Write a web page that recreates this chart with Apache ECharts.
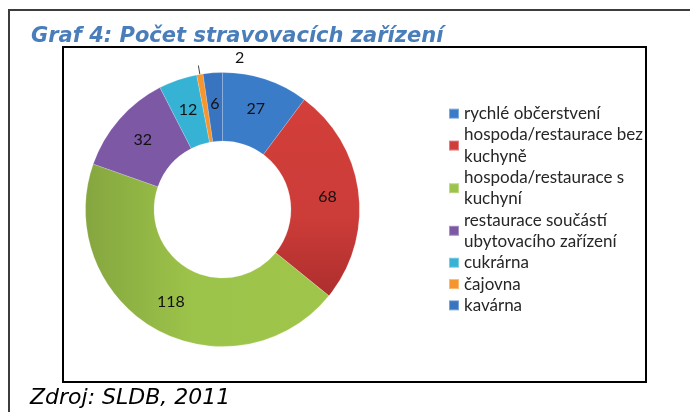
<!DOCTYPE html>
<html>
<head>
<meta charset="utf-8">
<script src="https://cdn.jsdelivr.net/npm/echarts@6/dist/echarts.min.js"></script>
<style>
  html, body { margin: 0; padding: 0; background: #fff; }
  #chart { width: 690px; height: 412px; }
</style>
</head>
<body>
<div id="chart"></div>
<script>
// data
var categories = [
    'rychlé občerstvení',
    'hospoda/restaurace bez kuchyně',
    'hospoda/restaurace s kuchyní',
    'restaurace součástí ubytovacího zařízení',
    'cukrárna',
    'čajovna',
    'kavárna'
];
// legend wording, wrapped the way the picture wraps it
var legendLabels = [
    'rychlé občerstvení',
    'hospoda/restaurace bez\nkuchyně',
    'hospoda/restaurace s\nkuchyní',
    'restaurace součástí\nubytovacího zařízení',
    'cukrárna',
    'čajovna',
    'kavárna'
];
var values = [27, 68, 118, 32, 12, 2, 6];
var colors = ['#3b7cc9', '#cf3e3a', '#9dc44a', '#7c58a5', '#36b2d5', '#f7962f', '#3874c0'];

var SMALL = 5; // čajovna - label sits outside with a leader line

var chart = echarts.init(document.getElementById('chart'));

// excel-ish shading on the two big slices
function shade(i) {
    if (i === 1) {
        return new echarts.graphic.LinearGradient(0, 0, 0, 1, [
            { offset: 0, color: '#d33f3b' },
            { offset: 0.6, color: '#cc3c38' },
            { offset: 1, color: '#ad2e2e' }
        ]);
    }
    if (i === 2) {
        return new echarts.graphic.LinearGradient(0, 0, 1, 0, [
            { offset: 0, color: '#85a63f' },
            { offset: 0.45, color: '#9dc44a' },
            { offset: 1, color: '#9fc64b' }
        ]);
    }
    return colors[i];
}

var pieData = categories.map(function (name, i) {
    var item = { name: name, value: values[i], itemStyle: { color: shade(i) } };
    if (i === SMALL) {
        item.label = { position: 'outside' };
        item.labelLine = { show: true, length: 9, length2: 0, lineStyle: { color: '#444', width: 1 } };
    }
    return item;
});

var option = {
    animation: false,
    color: colors,
    title: {
        text: 'Graf 4: Počet stravovacích zařízení',
        left: 26,
        top: 21,
        textStyle: {
            fontFamily: 'DejaVu Sans',
            fontStyle: 'italic',
            fontWeight: 'bold',
            fontSize: 21,
            color: '#4a7ebb'
        }
    },
    graphic: [
        // outer frame (top and left edge)
        {
            type: 'polyline',
            shape: { points: [[9, 412], [9, 10], [690, 10]] },
            style: { stroke: '#3c3c3c', lineWidth: 2, fill: null }
        },
        // chart area box
        {
            type: 'rect',
            shape: { x: 63, y: 47, width: 583, height: 335 },
            style: { stroke: '#000', lineWidth: 2, fill: null }
        },
        {
            type: 'text',
            left: 30,
            top: 387,
            style: {
                text: 'Zdroj: SLDB, 2011',
                font: 'italic 22px "DejaVu Sans"',
                fill: '#000'
            }
        }
    ],
    legend: {
        orient: 'vertical',
        left: 443,
        top: 98,
        itemWidth: 10,
        itemHeight: 10,
        itemGap: 0,
        icon: 'rect',
        formatter: function (name) {
            return legendLabels[categories.indexOf(name)];
        },
        textStyle: {
            fontFamily: 'Lato',
            fontSize: 17,
            lineHeight: 21.3,
            color: '#262626'
        },
        data: categories.map(function (name, i) {
            return { name: name, itemStyle: { color: colors[i] } };
        })
    },
    series: [{
        type: 'pie',
        center: [222.5, 209.5],
        radius: [68.5, 137],
        startAngle: 90,
        clockwise: true,
        avoidLabelOverlap: false,
        label: {
            show: true,
            position: 'inside',
            formatter: '{c}',
            fontFamily: 'Lato',
            fontSize: 16,
            color: '#111'
        },
        labelLine: { show: false },
        labelLayout: function (params) {
            if (params.dataIndex === SMALL) {
                return { dx: 51, dy: -8, labelLinePoints: params.labelLinePoints };
            }
            return {};
        },
        itemStyle: { borderColor: 'rgba(255,255,255,0.35)', borderWidth: 0.5 },
        emphasis: { disabled: true },
        data: pieData
    }]
};

chart.setOption(option);
</script>
</body>
</html>
